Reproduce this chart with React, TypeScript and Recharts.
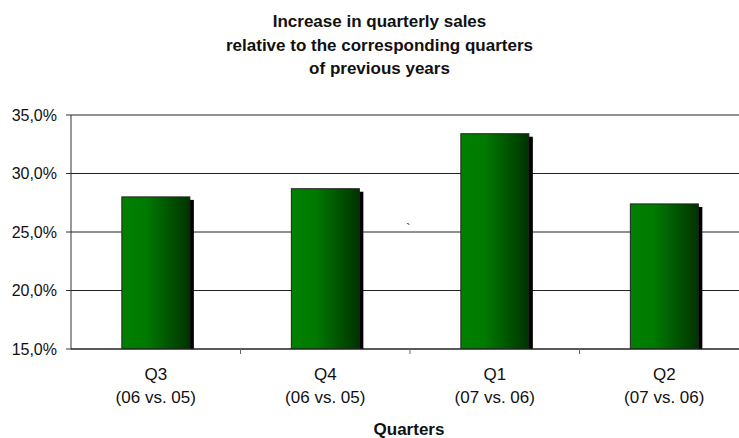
import React from "react";
import { BarChart, Bar, XAxis, YAxis, CartesianGrid } from "recharts";

const quarters = ["Q3", "Q4", "Q1", "Q2"];
const periods = ["(06 vs. 05)", "(06 vs. 05)", "(07 vs. 06)", "(07 vs. 06)"];
const increase = [28.0, 28.7, 33.4, 27.4];
const yTicks = [15, 20, 25, 30, 35];

const data = quarters.map((q, i) => ({ q, period: periods[i], value: increase[i] }));

const FONT = '"Liberation Sans", Arial, sans-serif';
const W = 760;
const H = 438;
const M = { top: 115, right: 11, left: 0, bottom: 0 };
const Y_W = 71;
const BAND = (W - M.left - M.right - Y_W) / quarters.length;

const fmt = (v: number) => v.toFixed(1).replace(".", ",") + "%";

function QuarterTick(props: any) {
  const { x, y, payload, index } = props;
  const bx = x - BAND / 2;
  return (
    <g>
      {index > 0 && <line x1={bx} x2={bx} y1={y} y2={y + 5} stroke="#666" />}
      <text x={x} y={y} textAnchor="middle" fontSize={17} fill="#111" fontFamily={FONT}>
        <tspan x={x} dy={31}>{payload.value}</tspan>
        <tspan x={x} dy={23}>{data[index]?.period}</tspan>
      </text>
    </g>
  );
}

function ShadowBar(props: any) {
  const { x, y, width, height } = props;
  if (!height) return null;
  return (
    <g>
      <rect x={x + 4} y={y + 3} width={width} height={height - 3} fill="#000" />
      <rect x={x} y={y} width={width} height={height} fill="url(#barGreen)" stroke="#222" strokeWidth={1} />
    </g>
  );
}

export default function App() {
  return (
    <div
      style={{
        position: "absolute",
        left: 0,
        top: 0,
        width: 739,
        height: 438,
        overflow: "hidden",
        background: "#fff",
        fontFamily: FONT,
      }}
    >
      <div
        style={{
          position: "absolute",
          left: 10,
          top: 10,
          width: 739,
          textAlign: "center",
          fontWeight: "bold",
          fontSize: 17,
          lineHeight: "23.5px",
          color: "#111",
        }}
      >
        Increase in quarterly sales
        <br />
        relative to the corresponding quarters
        <br />
        of previous years
      </div>

      <div style={{ position: "absolute", left: 0, top: 0 }}>
        <BarChart width={W} height={H} data={data} margin={M} barCategoryGap="30%">
          <defs>
            <linearGradient id="barGreen" x1="0" y1="0" x2="1" y2="0">
              <stop offset="0%" stopColor="#008000" />
              <stop offset="35%" stopColor="#007a00" />
              <stop offset="100%" stopColor="#003300" />
            </linearGradient>
          </defs>
          <CartesianGrid vertical={false} stroke="#222" />
          <XAxis
            dataKey="q"
            height={H - M.top - M.bottom - 234}
            tickSize={0}
            tickMargin={0}
            tick={<QuarterTick />}
            stroke="#222"
            interval={0}
          />
          <YAxis
            width={Y_W}
            domain={[15, 35]}
            ticks={yTicks}
            tickFormatter={fmt}
            tickSize={5}
            tickMargin={9}
            stroke="#333"
            tick={{ fontSize: 16, fill: "#111", fontFamily: FONT }}
            allowDataOverflow
          />
          <Bar dataKey="value" shape={<ShadowBar />} isAnimationActive={false} />
        </BarChart>
      </div>

      <div style={{ position: "absolute", left: 406, top: 222, fontSize: 14, color: "#444", lineHeight: "14px" }}>`</div>

      <div
        style={{
          position: "absolute",
          left: 309,
          top: 420,
          width: 200,
          textAlign: "center",
          fontWeight: "bold",
          fontSize: 17,
          lineHeight: "20px",
          color: "#111",
        }}
      >
        Quarters
      </div>
    </div>
  );
}
